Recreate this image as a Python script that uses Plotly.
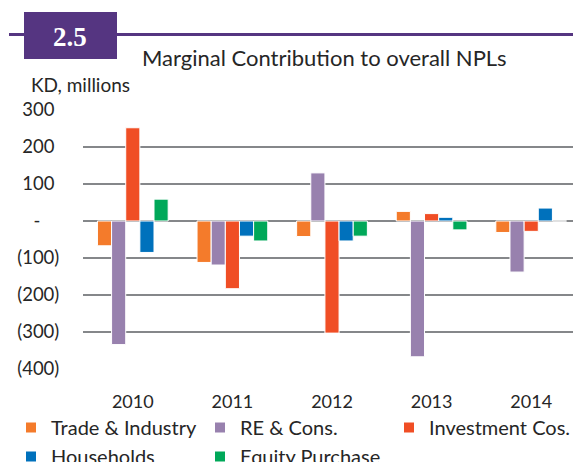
import plotly.graph_objects as go

years = ["2010", "2011", "2012", "2013", "2014"]
trade_industry = [-67, -112, -42, 26, -31]
re_cons = [-334, -119, 130, -367, -138]
investment_cos = [252, -183, -303, 20, -28]
households = [-85, -41, -54, 10, 35]
equity_purchase = [59, -54, -41, -24, 0]

series_names = ["Trade & Industry", "RE & Cons.", "Investment Cos.", "Households", "Equity Purchase"]
series_colors = ["#F47B2B", "#9881AE", "#F04E25", "#0071BC", "#00A859"]
series_values = [trade_industry, re_cons, investment_cos, households, equity_purchase]

NB = "\u00a0"
y_tickvals = [300, 200, 100, 0, -100, -200, -300, -400]
y_ticktext = ["300" + NB, "200" + NB, "100" + NB, "-" + NB * 4, "(100)", "(200)", "(300)", "(400)"]

FONT = "Lato"
TXT = "#262626"
GRID = "#85878A"
PURPLE = "#553581"

fig = go.Figure()
for name, vals, col in zip(series_names, series_values, series_colors):
    fig.add_trace(go.Bar(x=years, y=vals, name=name, marker=dict(color=col, line=dict(color="white", width=1))))

# page body has an 8px margin; figure is sized to fit the 581x462 window
OFF = 8
W, H = 581 - OFF, 462 - OFF
L, R, T, B = 83 - OFF, 0, 110 - OFF, 462 - 369
pw = W - L - R
ph = H - T - B

def px(x):
    return (x - OFF - L) / pw

def py(y):
    return (H - B - (y - OFF)) / ph

fig.update_layout(
    width=W, height=H,
    margin=dict(l=L, r=R, t=T, b=B, pad=0, autoexpand=False),
    paper_bgcolor="white", plot_bgcolor="white",
    barmode="group", bargap=0.29, bargroupgap=0,
    font=dict(family=FONT, size=18, color=TXT),
    showlegend=True,
    legend=dict(orientation="h", x=px(11), xanchor="left", y=py(408), yanchor="top",
                entrywidth=144, entrywidthmode="pixels", font=dict(size=20, color=TXT),
                bgcolor="rgba(0,0,0,0)", tracegroupgap=0, itemsizing="constant"),
    xaxis=dict(showgrid=False, showline=False, zeroline=False, ticks="outside", ticklen=16,
               tickcolor="rgba(0,0,0,0)", tickfont=dict(size=18, color=TXT)),
    yaxis=dict(range=[-400, 300], tickmode="array", tickvals=y_tickvals, ticktext=y_ticktext,
               showgrid=True, gridcolor=GRID, gridwidth=2,
               zeroline=True, zerolinecolor=GRID, zerolinewidth=2,
               showline=False, ticks="outside", ticklen=19, tickcolor="rgba(0,0,0,0)",
               tickfont=dict(size=18.5, color=TXT)),
    shapes=[
        dict(type="line", xref="paper", yref="paper", x0=px(9), x1=px(581), y0=py(34.5), y1=py(34.5),
             line=dict(color=PURPLE, width=3)),
        dict(type="rect", xref="paper", yref="paper", x0=px(24), x1=px(117), y0=py(12), y1=py(59),
             fillcolor=PURPLE, line=dict(width=0)),
    ],
    annotations=[
        dict(text="<b>2.5</b>", xref="paper", yref="paper", x=px(70), y=py(37), xanchor="center",
             yanchor="middle", showarrow=False, font=dict(family="Liberation Serif", size=27, color="white")),
        dict(text="Marginal Contribution to overall NPLs", xref="paper", yref="paper", x=px(140), y=py(57.5),
             xanchor="left", yanchor="middle", showarrow=False, font=dict(size=22, color=TXT)),
        dict(text="KD, millions", xref="paper", yref="paper", x=px(29), y=py(84),
             xanchor="left", yanchor="middle", showarrow=False, font=dict(size=19, color=TXT)),
    ],
)

fig.write_html("out.html")
